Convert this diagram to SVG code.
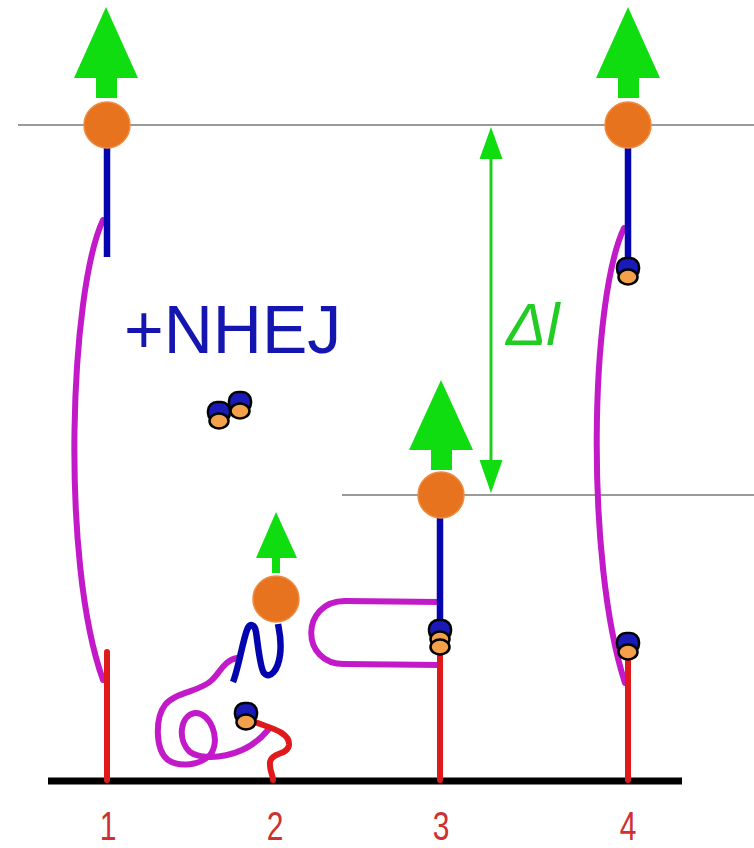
<svg xmlns="http://www.w3.org/2000/svg" xmlns:xlink="http://www.w3.org/1999/xlink" width="754" height="848" viewBox="0 0 754 848">
  <style>
    .guide { stroke: #9a9a9a; stroke-width: 2; fill: none; }
    .ground { stroke: #000; stroke-width: 7; }
    .ds { stroke: #e01a1a; stroke-width: 6; fill: none; stroke-linecap: round; }
    .ss { stroke: #0505b0; stroke-width: 6.5; fill: none; stroke-linecap: butt; }
    .tether { stroke: #c21ac8; stroke-width: 6; fill: none; stroke-linecap: round; }
    .bead { fill: #e8731e; stroke: #f08a40; stroke-width: 1.5; }
    .force { fill: #10dd10; }
    .num { font-family: "Liberation Sans", Arial, sans-serif; font-size: 40px; fill: #d03030; text-anchor: middle; }
    .face { fill: #f5a04a; stroke: #000; stroke-width: 2.5; }
  </style>
  <defs>
    <!-- Ku heterodimer: blue ring body with orange end face -->
    <g id="ku">
      <rect x="-11" y="-15" width="22" height="20" rx="9" fill="#1a1ab8" stroke="#000" stroke-width="2.5"/>
      <ellipse cx="0" cy="4" rx="9.5" ry="7.5" class="face"/>
    </g>
  </defs>

  <!-- reference levels -->
  <line class="guide" x1="18" y1="125" x2="754" y2="125"/>
  <line class="guide" x1="342" y1="495" x2="754" y2="495"/>

  <!-- surface -->
  <line class="ground" x1="48" y1="781" x2="682" y2="781"/>

  <!-- extension marker -->
  <g id="delta-l">
    <line x1="491" y1="150" x2="491" y2="468" stroke="#22cc22" stroke-width="3"/>
    <polygon points="491,127 479.5,159 502.5,159" fill="#10dd10"/>
    <polygon points="491,493 479.5,460 502.5,460" fill="#10dd10"/>
    <text x="506" y="345" font-family="Liberation Sans, Arial, sans-serif" font-size="60" font-style="italic" fill="#22cc22">Δl</text>
  </g>

  <text x="124" y="353" font-family="Liberation Sans, Arial, sans-serif" font-size="68" fill="#1515b0">+NHEJ</text>

  <!-- free Ku pair -->
  <g id="ku-free">
    <use xlink:href="#ku" transform="translate(240,407)"/>
    <use xlink:href="#ku" transform="translate(219,417)"/>
  </g>

  <g id="connectors">
    <!-- tethers -->
    <path class="tether" d="M103,220 C70,290 60,560 103,680"/>
    <path class="tether" d="M624,228 C590,300 585,560 625,683"/>
    <path class="tether" d="M440,602 L345,601 C300,601 300,665 345,664 L440,665"/>
    <path class="tether" d="M237,658 C225,660 220,672 212,680 C200,692 175,692 165,705 C155,718 155,750 168,760 C180,768 200,765 210,755 C222,740 210,712 195,713 C180,715 177,740 190,752 C205,762 245,758 268,730"/>
  </g>

  <!-- tether 1: intact -->
  <g id="tether-1">
    <line class="ds" x1="107" y1="652" x2="107" y2="780"/>
    <line class="ss" x1="107" y1="125" x2="107" y2="257"/>
    <polygon class="force" points="106,7 74,78 96,78 96,98 117,98 117,78 138,78"/>
    <circle class="bead" cx="107" cy="125" r="23"/>
  </g>

  <!-- tether 2: collapsed -->
  <g id="tether-2">
    <path class="ds" d="M255,722 C270,728 290,732 289,745 C288,755 272,752 270,762 C269,770 273,775 273,780"/>
    <path class="ss" stroke-linecap="round" d="M233,682 C238,670 243,640 247,630 C250,622 255,625 256,632 C258,645 260,668 264,673 C270,680 278,670 280,655 C282,640 279,630 278,624"/>
    <use xlink:href="#ku" transform="translate(246,718)"/>
    <polygon class="force" points="276,512 256,558 272,558 272,573 280,573 280,558 297,558"/>
    <circle class="bead" cx="276" cy="599" r="23"/>
  </g>

  <!-- tether 3: ends joined, loop released -->
  <g id="tether-3">
    <line class="ds" x1="440" y1="650" x2="440" y2="780"/>
    <line class="ss" x1="440" y1="495" x2="440" y2="625"/>
    <use xlink:href="#ku" transform="translate(440,635)"/>
    <ellipse cx="440" cy="647" rx="9.5" ry="7.5" class="face"/>
    <polygon class="force" points="441,380 409,450 431,450 431,470 452,470 452,450 473,450"/>
    <circle class="bead" cx="441" cy="495" r="23"/>
  </g>

  <!-- tether 4: Ku on both ends -->
  <g id="tether-4">
    <line class="ds" x1="628" y1="652" x2="628" y2="780"/>
    <line class="ss" x1="628" y1="125" x2="628" y2="265"/>
    <use xlink:href="#ku" transform="translate(628,273)"/>
    <use xlink:href="#ku" transform="translate(628,648)"/>
    <polygon class="force" points="628,7 596,78 618,78 618,98 639,98 639,78 660,78"/>
    <circle class="bead" cx="628" cy="125" r="23"/>
  </g>

  <!-- tether numbers -->
  <g id="labels">
    <text class="num" transform="translate(108,840) scale(0.75,1)">1</text>
    <text class="num" transform="translate(275,840) scale(0.75,1)">2</text>
    <text class="num" transform="translate(441,840) scale(0.75,1)">3</text>
    <text class="num" transform="translate(628,840) scale(0.75,1)">4</text>
  </g>
</svg>
